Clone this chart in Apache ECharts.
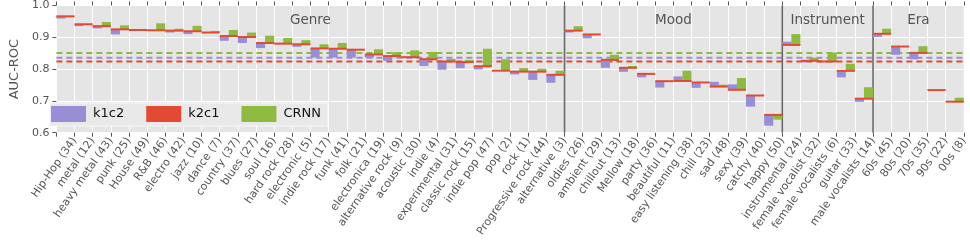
<!DOCTYPE html>
<html><head><meta charset="utf-8">
<script src="https://cdn.jsdelivr.net/npm/echarts@6/dist/echarts.min.js"></script>
<style>html,body{margin:0;padding:0;background:#fff}#c{width:970px;height:243px}</style>
</head><body><div id="c"></div>
<script>
const categories = ['Hip-Hop (34)','metal (12)','heavy metal (43)','punk (25)','House (49)','R&B (46)','electro (42)','jazz (10)','dance (7)','country (37)','blues (27)','soul (16)','hard rock (28)','electronic (5)','indie rock (17)','funk (41)','folk (21)','electronica (19)','alternative rock (9)','acoustic (30)','indie (4)','experimental (31)','classic rock (15)','indie pop (47)','pop (2)','rock (1)','Progressive rock (44)','alternative (3)','oldies (26)','ambient (29)','chillout (13)','Mellow (18)','party (36)','beautiful (11)','easy listening (38)','chill (23)','sad (48)','sexy (39)','catchy (40)','happy (50)','instrumental (24)','female vocalist (32)','female vocalists (6)','guitar (33)','male vocalists (14)','60s (45)','80s (20)','70s (35)','90s (22)','00s (8)'];
const k2c1 = [0.966,0.941,0.935,0.925,0.923,0.922,0.921,0.919,0.915,0.904,0.901,0.882,0.880,0.878,0.865,0.864,0.861,0.846,0.841,0.8375,0.831,0.824,0.822,0.809,0.795,0.792,0.792,0.782,0.921,0.909,0.829,0.804,0.785,0.762,0.7625,0.758,0.745,0.735,0.717,0.656,0.876,0.826,0.824,0.7945,0.707,0.911,0.871,0.851,0.734,0.6975];
const k1c2 = [0.959,0.935,0.928,0.909,0.921,0.920,0.915,0.910,0.913,0.889,0.882,0.866,0.880,0.870,0.836,0.836,0.836,0.836,0.826,0.835,0.810,0.798,0.803,0.799,0.795,0.783,0.766,0.757,0.915,0.897,0.804,0.7915,0.774,0.742,0.777,0.741,0.760,0.752,0.682,0.622,0.886,0.821,0.824,0.774,0.697,0.901,0.845,0.831,0.734,0.6975];
const crnn = [0.963,0.942,0.948,0.9375,0.923,0.944,0.927,0.936,0.920,0.923,0.915,0.905,0.898,0.891,0.878,0.882,0.862,0.8625,0.853,0.859,0.854,0.832,0.829,0.864,0.831,0.803,0.801,0.795,0.935,0.909,0.845,0.810,0.785,0.762,0.795,0.758,0.751,0.772,0.718,0.641,0.910,0.836,0.852,0.817,0.743,0.927,0.871,0.872,0.734,0.710];
const meanNames = ['CRNN','k1c2','k2c1'];
const meanValues = [0.851,0.836,0.824];
const sectionNames = ['Genre','Mood','Instrument','Era'];
const sectionBounds = [0,28,40,45,50];
const sectionLabelY = 0.953;
const yTicks = [0.6,0.7,0.8,0.9,1.0];

const COLORS = {k1c2:'#988ED5', k2c1:'#E24A33', CRNN:'#8EBA42'};
const FONT = 'DejaVu Sans';

function halfBar(name, vals, offset){
  return {
    type:'custom', name, z:3, itemStyle:{color:COLORS[name]},
    data: categories.map((c,i)=>[i, k2c1[i], vals[i]]),
    encode:{x:0, y:[1,2]},
    renderItem(params, api){
      const i = api.value(0);
      const p0 = api.coord([i+offset, api.value(1)]);
      const p1 = api.coord([i+offset+0.5, api.value(2)]);
      return {type:'rect', shape:{x:p0[0], y:Math.min(p0[1],p1[1]), width:p1[0]-p0[0], height:Math.abs(p1[1]-p0[1])},
        style:{fill:COLORS[name]}};
    }
  };
}

const chart = echarts.init(document.getElementById('c'), null, {renderer:'canvas'});
chart.setOption({
  animation:false,
  backgroundColor:'#ffffff',
  textStyle:{fontFamily:FONT},
  grid:{left:43.6, right:1.4, top:5, bottom:110.3, show:true, backgroundColor:'#E5E5E5', borderWidth:0},
  legend:{
    data:['k1c2','k2c1','CRNN'], left:50, top:103, orient:'horizontal',
    padding:[3,7,4,1], itemWidth:35, itemHeight:16, itemGap:22, icon:'rect',
    backgroundColor:'#e9e9e9', borderColor:'#f7f7f7', borderWidth:1, borderRadius:0,
    textStyle:{fontSize:13, color:'#111', fontFamily:FONT, padding:[0,0,0,2]}
  },
  xAxis:[{
    type:'value', min:0, max:50, interval:1, position:'bottom',
    axisLine:{show:false},
    axisTick:{show:true, length:4, lineStyle:{color:'#555'}},
    splitLine:{show:true, lineStyle:{color:'#ffffff', width:1}},
    axisLabel:{show:true, rotate:55, fontSize:11, color:'#555', fontFamily:FONT, margin:6,
      showMinLabel:true, showMaxLabel:true,
      formatter:(v)=>categories[Math.round(v)-1] || ''}
  },{
    type:'value', min:0, max:50, interval:1, position:'top',
    axisLine:{show:false},
    axisTick:{show:true, length:4, lineStyle:{color:'#555'}},
    splitLine:{show:false}, axisLabel:{show:false}
  }],
  yAxis:{
    type:'value', min:yTicks[0], max:yTicks[yTicks.length-1], interval:0.1,
    name:'AUC-ROC', nameLocation:'middle', nameGap:35,
    nameTextStyle:{fontSize:13, color:'#555', fontFamily:FONT},
    axisLine:{show:false},
    axisTick:{show:true, length:4, lineStyle:{color:'#555'}},
    splitLine:{show:true, lineStyle:{color:'#ffffff', width:1}},
    axisLabel:{fontSize:11, color:'#555', fontFamily:FONT, margin:7, formatter:(v)=>v.toFixed(1)}
  },
  series:[
    {
      type:'custom', name:'means', z:1, silent:true,
      data: meanValues.map((v,i)=>[i, v]),
      encode:{y:1},
      renderItem(params, api){
        const v = api.value(1);
        const a = api.coord([0, v]);
        const b = api.coord([50, v]);
        return {type:'line', shape:{x1:a[0], y1:a[1], x2:b[0], y2:b[1]},
          style:{stroke:COLORS[meanNames[api.value(0)]], lineWidth:2, lineDash:[6,4]}};
      }
    },
    {
      type:'custom', name:'sections', z:2, silent:true,
      data: sectionNames.map((n,i)=>[sectionBounds[i], sectionBounds[i+1], i]),
      encode:{x:[0,1]},
      renderItem(params, api){
        const s = api.value(0), e = api.value(1);
        const name = sectionNames[api.value(2)];
        const c = api.coord([(s+e)/2, sectionLabelY]);
        const children = [{type:'text', x:c[0], y:c[1],
          style:{text:name, fill:'#555', fontSize:13.5, fontFamily:FONT, align:'center', verticalAlign:'middle'}}];
        if (s > 0) {
          const top = api.coord([s, 1.0]);
          const bot = api.coord([s, 0.6]);
          children.push({type:'line', shape:{x1:top[0], y1:top[1], x2:bot[0], y2:bot[1]},
            style:{stroke:'#6a6a6a', lineWidth:1.6}});
        }
        return {type:'group', children};
      }
    },
    halfBar('k1c2', k1c2, 0),
    {
      type:'custom', name:'k2c1', z:4, itemStyle:{color:COLORS.k2c1},
      data: k2c1.map((v,i)=>[i, v]),
      encode:{x:0, y:1},
      renderItem(params, api){
        const i = api.value(0);
        const a = api.coord([i, api.value(1)]);
        const b = api.coord([i+1, api.value(1)]);
        return {type:'line', shape:{x1:a[0], y1:a[1], x2:b[0], y2:b[1]},
          style:{stroke:COLORS.k2c1, lineWidth:2}};
      }
    },
    halfBar('CRNN', crnn, 0.5)
  ]
});
</script></body></html>
